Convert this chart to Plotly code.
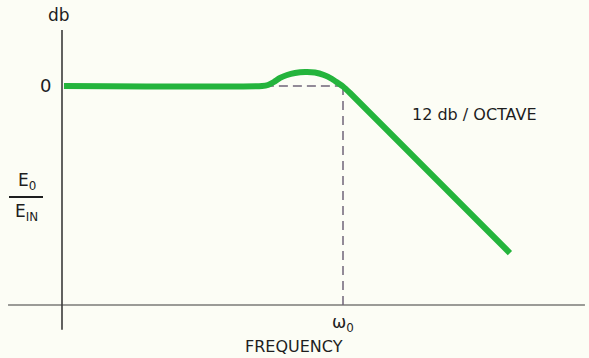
import plotly.graph_objects as go

# Response curve (frequency in units where omega_0 = 10, gain in db)
freq = [0.07, 7.12, 7.33, 7.54, 7.76, 8.01, 8.29, 8.65, 9.00, 9.32, 9.61, 9.82, 10.0, 10.25, 15.94]
gain = [0.0, 0.0, 0.14, 0.55, 1.10, 1.51, 1.78, 1.92, 1.85, 1.51, 0.96, 0.41, -0.07, -0.96, -22.88]

# Reference (asymptote) lines
flat_freq = [7.22, 10.0]
flat_gain = [0.0, 0.0]
w0_freq = [10.0, 10.0]
w0_gain = [0.0, -30.0]

# Drawn axes
y_axis_x = [0.0, 0.0]
y_axis_y = [7.67, -33.4]
x_axis_x = [-1.92, 18.61]
x_axis_y = [-30.0, -30.0]

W, H = 589, 358
INK = "#1e1e1e"
GREEN = "#24b43c"
DASH = "#6f6478"
FONT = "DejaVu Sans"

fig = go.Figure()
fig.add_trace(go.Scatter(x=y_axis_x, y=y_axis_y, mode="lines",
                         line=dict(color="#3a3a3a", width=1.6), hoverinfo="skip"))
fig.add_trace(go.Scatter(x=x_axis_x, y=x_axis_y, mode="lines",
                         line=dict(color="#3a3a3a", width=1.2), hoverinfo="skip"))
fig.add_trace(go.Scatter(x=flat_freq, y=flat_gain, mode="lines",
                         line=dict(color=DASH, width=1.5, dash="9px,5px"), hoverinfo="skip"))
fig.add_trace(go.Scatter(x=w0_freq, y=w0_gain, mode="lines",
                         line=dict(color=DASH, width=1.5, dash="9px,6px"), hoverinfo="skip"))
fig.add_trace(go.Scatter(x=freq, y=gain, mode="lines",
                         line=dict(color=GREEN, width=6, shape="spline", smoothing=0.6),
                         hoverinfo="skip"))

def ann(text, px, py, size=14, **kw):
    fig.add_annotation(text=text, x=px / W, y=1 - py / H, xref="paper", yref="paper",
                       xanchor="center", yanchor="middle", showarrow=False,
                       font=dict(family=FONT, size=size, color=INK), **kw)

ann("db", 59, 15, size=17)
ann("0", 45, 85, size=18)
ann("E<sub>0</sub>", 27, 181, size=17)
ann("E<sub>IN</sub>", 26, 213, size=17)
ann("ω<sub>0</sub>", 343, 323, size=17)
ann("FREQUENCY", 294, 346, size=16)
ann("12 db / OCTAVE", 474, 115, size=16)

# fraction bar
fig.add_shape(type="line", xref="paper", yref="paper",
              x0=9 / W, x1=43 / W, y0=1 - 197 / H, y1=1 - 197 / H,
              line=dict(color=INK, width=1.8))

x_lo, x_hi = (0 - 62) / 28.1, (W - 62) / 28.1
y_lo, y_hi = (86 - H) / 7.3, 86 / 7.3

fig.update_layout(
    width=W, height=H, margin=dict(l=0, r=0, t=0, b=0),
    paper_bgcolor="#fcfdf5", plot_bgcolor="#fcfdf5",
    showlegend=False,
    xaxis=dict(range=[x_lo, x_hi], visible=False, fixedrange=True),
    yaxis=dict(range=[y_lo, y_hi], visible=False, fixedrange=True),
)
fig.write_html("out.html", config={"displayModeBar": False},
               post_script="document.body.style.margin='0';")
